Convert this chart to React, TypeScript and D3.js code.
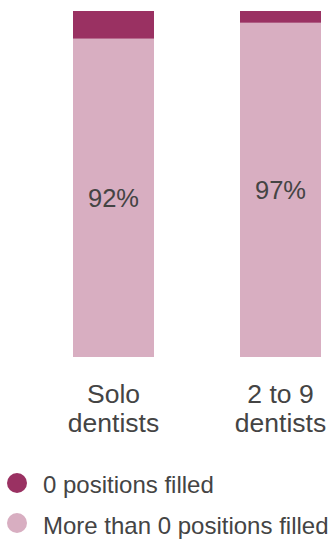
import React from "react";
import * as d3 from "d3";

const categories: string[][] = [["Solo", "dentists"], ["2 to 9", "dentists"]];
const zeroFilled: number[] = [8, 3.4];
const moreThanZero: number[] = [92, 96.6];
const seriesNames: string[] = ["0 positions filled", "More than 0 positions filled"];
const colors: string[] = ["#9a3162", "#d8aec1"];

const W = 328;
const H = 544;
const FONT = "'Liberation Sans', Arial, sans-serif";
const TEXT = "#444444";

export default function App() {
  const keys = categories.map((c) => c.join(" "));
  const x = d3.scaleBand<string>().domain(keys).range([73, 321]).paddingInner(0.515).paddingOuter(0);
  const y = d3.scaleLinear().domain([0, 100]).range([357, 11]);

  return (
    <svg width={W} height={H} style={{ position: "absolute", left: 0, top: 0 }} fontFamily={FONT}>
      {keys.map((k, i) => {
        const x0 = x(k)!;
        const bw = x.bandwidth();
        const light = moreThanZero[i];
        const dark = zeroFilled[i];
        const lightTop = y(light);
        const darkTop = y(light + dark);
        const cx = x0 + bw / 2;
        return (
          <g key={k}>
            <rect x={x0} y={lightTop} width={bw} height={y(0) - lightTop} fill={colors[1]} />
            <rect x={x0} y={darkTop} width={bw} height={lightTop - darkTop} fill={colors[0]} />
            <text x={cx} y={(lightTop + y(0)) / 2 + 9} textAnchor="middle" fontSize={25.5} fill={TEXT}>
              {Math.round(light)}%
            </text>
            {categories[i].map((line, j) => (
              <text key={j} x={cx} y={403 + j * 29} textAnchor="middle" fontSize={26.5} fill={TEXT}>
                {line}
              </text>
            ))}
          </g>
        );
      })}
      {seriesNames.map((name, i) => (
        <g key={name}>
          <circle cx={17} cy={483 + i * 40} r={10} fill={colors[i]} />
          <text x={43} y={493 + i * 41} fontSize={24} fill={TEXT}>
            {name}
          </text>
        </g>
      ))}
    </svg>
  );
}
